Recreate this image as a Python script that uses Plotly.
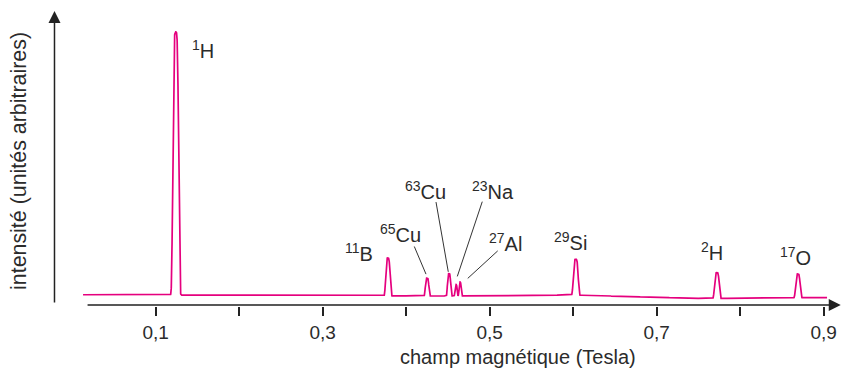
import numpy as np
import plotly.graph_objects as go

# ---- data ----
isotopes = ["1H", "11B", "65Cu", "63Cu", "23Na", "27Al", "29Si", "2H", "17O"]
mass_numbers = ["1", "11", "65", "63", "23", "27", "29", "2", "17"]
elements = ["H", "B", "Cu", "Cu", "Na", "Al", "Si", "H", "O"]
peak_field = [0.124, 0.378, 0.425, 0.4513, 0.4596, 0.4644, 0.603, 0.772, 0.869]   # Tesla
peak_height = [264, 38, 18, 22.5, 11.5, 14, 36, 26, 24]                           # arb. units
peak_halfwidth = [0.0039, 0.0030, 0.0024, 0.0022, 0.0015, 0.0015, 0.0033, 0.0032, 0.0031]
PEAK_SHAPE_POWER = 4  # flat-sided line shape

baseline_field = [0.013, 0.45, 0.60, 0.76, 0.904]
baseline_level = [11.3, 10.0, 11.0, 7.5, 8.5]

tick_vals = [0.1, 0.2, 0.3, 0.4, 0.5, 0.6, 0.7, 0.8, 0.9]
tick_text = ["0,1", "", "0,3", "", "0,5", "", "0,7", "", "0,9"]

# label positions (field, intensity) and leader lines
label_pos = {
    "1H": (0.1567, 257), "11B": (0.344, 54), "65Cu": (0.3935, 73),
    "63Cu": (0.4234, 116), "23Na": (0.5045, 116), "27Al": (0.5195, 64),
    "29Si": (0.5968, 65), "2H": (0.7662, 55), "17O": (0.866, 50),
}
leaders = [  # (x0, y0, x1, y1)
    (0.4097, 59.7, 0.4237, 32.0),
    (0.4357, 104.3, 0.4504, 34.3),
    (0.4911, 104.7, 0.4612, 29.7),
    (0.5096, 55.3, 0.4737, 27.7),
]

# ---- spectrum ----
field = np.arange(0.013, 0.9041, 0.0001)
intensity = np.interp(field, baseline_field, baseline_level)
for c, h, w in zip(peak_field, peak_height, peak_halfwidth):
    intensity = intensity + h * np.exp(-np.abs((field - c) / w) ** PEAK_SHAPE_POWER)

TXT = "#2b2b2b"
FONT = "Arial, Liberation Sans, Helvetica, sans-serif"

fig = go.Figure()
fig.add_trace(go.Scatter(x=field, y=intensity, mode="lines",
                         line=dict(color="#e5007e", width=1.7),
                         hoverinfo="skip", showlegend=False))

annotations = []
for iso, m, el in zip(isotopes, mass_numbers, elements):
    x, y = label_pos[iso]
    annotations.append(dict(x=x, y=y, xref="x", yref="y",
                            text=f"<sup style='font-size:14px'>{m}</sup>{el}",
                            showarrow=False,
                            font=dict(size=20, color=TXT, family=FONT),
                            xanchor="center", yanchor="middle"))

# axis titles
annotations.append(dict(x=0.5895, y=-0.1717, xref="paper", yref="paper",
                        text="champ magnétique (Tesla)", showarrow=False,
                        font=dict(size=20, color=TXT, family=FONT),
                        xanchor="center", yanchor="middle"))
annotations.append(dict(x=0, y=0.49, xref="paper", yref="paper", xshift=-34,
                        text="intensité (unités arbitraires)", showarrow=False,
                        textangle=-90,
                        font=dict(size=21.4, color=TXT, family=FONT),
                        xanchor="center", yanchor="middle"))

# axis arrows
annotations.append(dict(x=0.9204, y=1, xref="x", yref="y",
                        ax=0.0166, ay=1, axref="x", ayref="y",
                        text="", showarrow=True, arrowhead=2, arrowsize=1.6,
                        arrowwidth=1.5, arrowcolor="#222"))
annotations.append(dict(x=-0.0212, y=296, xref="x", yref="y",
                        ax=-0.0212, ay=2, axref="x", ayref="y",
                        text="", showarrow=True, arrowhead=2, arrowsize=1.6,
                        arrowwidth=1.5, arrowcolor="#222"))

shapes = [dict(type="line", xref="x", yref="y", x0=a, y0=b, x1=c, y1=d,
               line=dict(color="#333", width=1)) for a, b, c, d in leaders]

fig.update_layout(
    width=841, height=368,
    margin=dict(l=53, r=0, t=10, b=62, autoexpand=False),
    paper_bgcolor="white", plot_bgcolor="white",
    annotations=annotations, shapes=shapes,
    xaxis=dict(range=[-0.02299, 0.92072], showgrid=False, zeroline=False,
               showline=False, ticks="outside", ticklen=9, tickwidth=1.5,
               tickcolor="#222", tickvals=tick_vals, ticktext=tick_text,
               tickfont=dict(size=19, color=TXT, family=FONT)),
    yaxis=dict(range=[0, 297], showgrid=False, zeroline=False,
               showline=False, showticklabels=False, ticks=""),
)

fig.write_html("out.html", config={"displayModeBar": False},
               post_script="document.body.style.margin='0';document.body.style.overflow='hidden';")
